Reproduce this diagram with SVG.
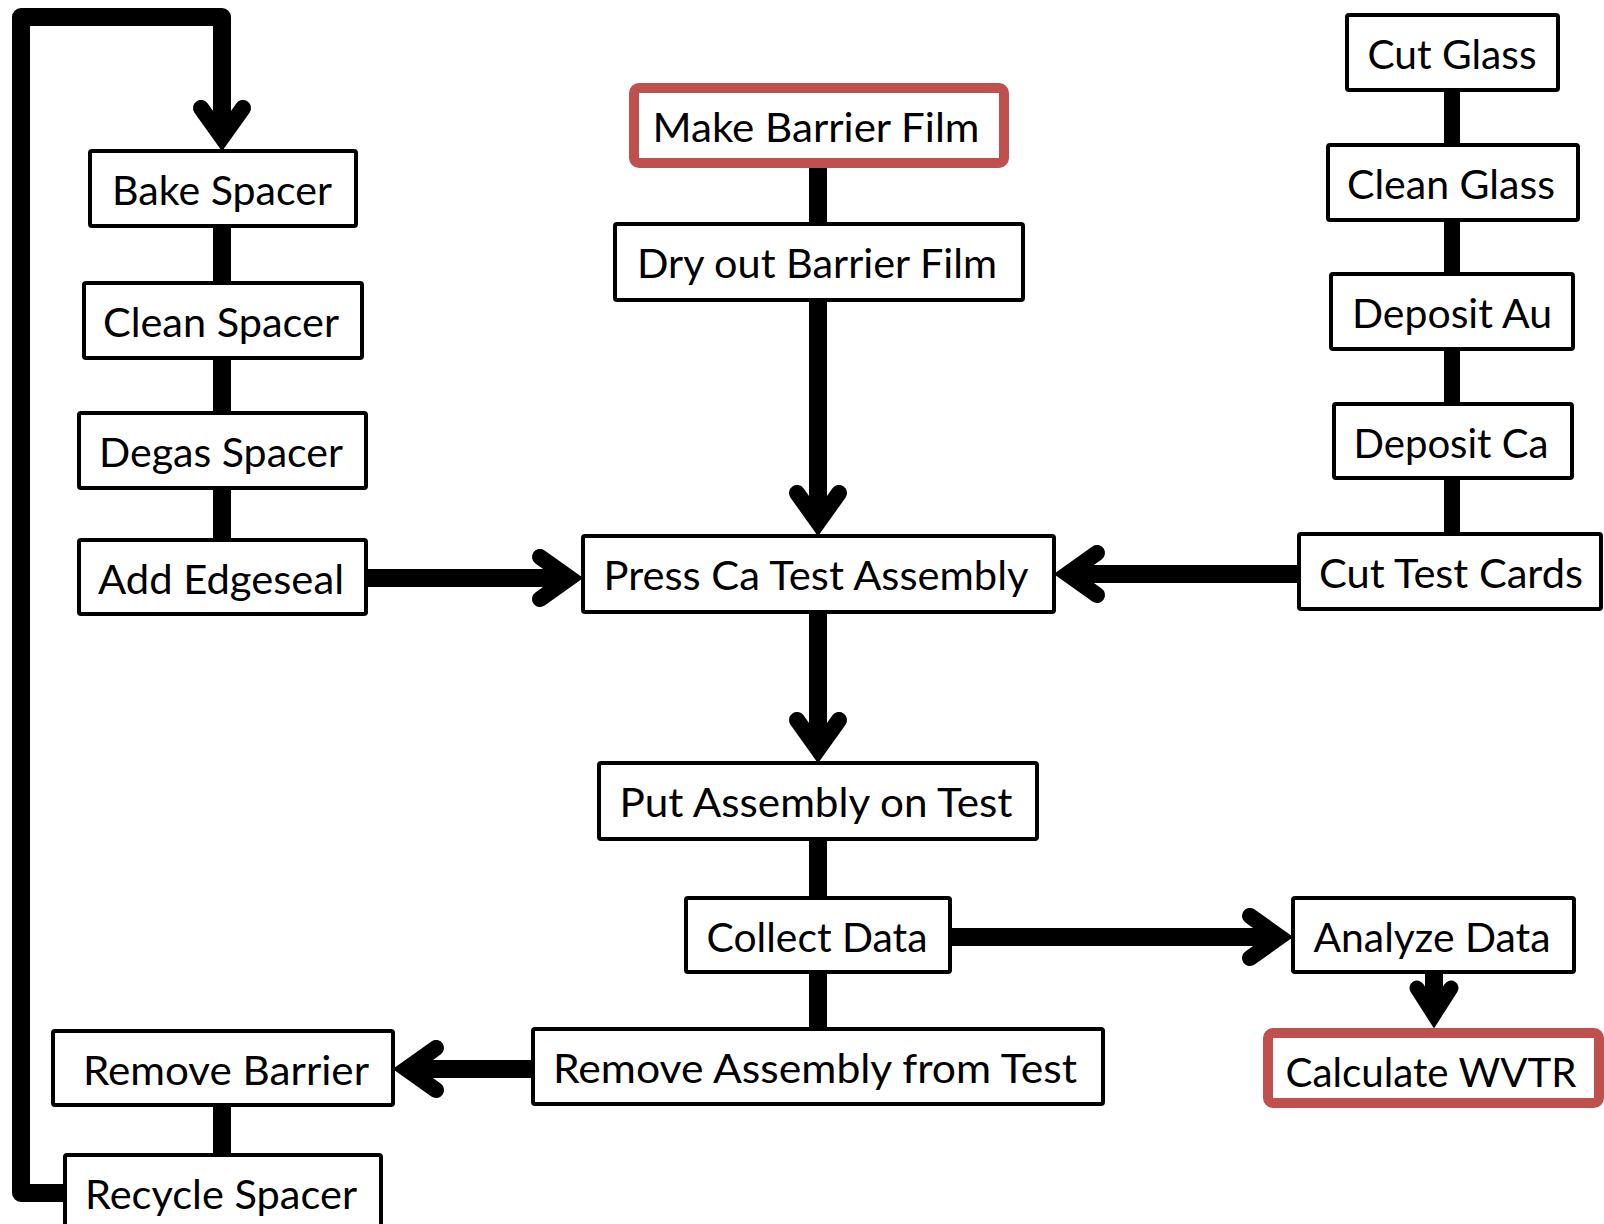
<svg xmlns="http://www.w3.org/2000/svg" width="1604" height="1224" viewBox="0 0 1604 1224">
<style>
.box{fill:#fff;stroke:#000;stroke-width:4}
.red{fill:#fff;stroke:#C0504D;stroke-width:10}
.lbl{font-family:Lato,"Open Sans","Liberation Sans",sans-serif;font-size:40px;fill:#000;text-anchor:middle}
.ln{fill:none;stroke:#000;stroke-width:18;stroke-linecap:butt;stroke-linejoin:round}
.ln2{fill:none;stroke:#000;stroke-width:16;stroke-linecap:butt}
</style>
<defs>
<marker id="ah" markerUnits="userSpaceOnUse" markerWidth="100" markerHeight="100" viewBox="-60 -50 100 100" refX="-14" refY="0" orient="auto" overflow="visible">
<path d="M-43,-21 L-13.5,0 L-43,21" fill="none" stroke="#000" stroke-width="16" stroke-linejoin="miter" stroke-miterlimit="10" stroke-linecap="round"/>
</marker>
<marker id="ahs" markerUnits="userSpaceOnUse" markerWidth="100" markerHeight="100" viewBox="-60 -50 100 100" refX="-14" refY="0" orient="auto" overflow="visible">
<path d="M-40,-17 L-13.5,0 L-40,17" fill="none" stroke="#000" stroke-width="15" stroke-linejoin="miter" stroke-miterlimit="10" stroke-linecap="round"/>
</marker>
</defs>
<rect width="1604" height="1224" fill="#fff"/>
<g id="connectors">
<path class="ln" d="M65,1193 L21,1193 L21,17 L222,17 L222,137" marker-end="url(#ah)"/>
<line class="ln" x1="222" y1="226" x2="222" y2="283"/>
<line class="ln" x1="222" y1="358" x2="222" y2="413"/>
<line class="ln" x1="222" y1="488" x2="222" y2="540"/>
<line class="ln" x1="222" y1="1105" x2="222" y2="1155"/>
<line class="ln" x1="366" y1="578" x2="569" y2="578" marker-end="url(#ah)"/>
<line class="ln" x1="818" y1="168" x2="818" y2="224"/>
<line class="ln" x1="818" y1="300" x2="818" y2="522" marker-end="url(#ah)"/>
<line class="ln" x1="818" y1="612" x2="818" y2="749" marker-end="url(#ah)"/>
<line class="ln" x1="818" y1="839" x2="818" y2="898"/>
<line class="ln" x1="818" y1="972" x2="818" y2="1029"/>
<line class="ln" x1="1299" y1="574" x2="1068" y2="574" marker-end="url(#ah)"/>
<line class="ln" x1="950" y1="937" x2="1279" y2="937" marker-end="url(#ah)"/>
<line class="ln" x1="533" y1="1069" x2="407" y2="1069" marker-end="url(#ah)"/>
<line class="ln" x1="1434" y1="972" x2="1434" y2="1014" marker-end="url(#ahs)"/>
<line class="ln2" x1="1452" y1="90" x2="1452" y2="145"/>
<line class="ln2" x1="1452" y1="220" x2="1452" y2="274"/>
<line class="ln2" x1="1452" y1="349" x2="1452" y2="404"/>
<line class="ln2" x1="1452" y1="478" x2="1452" y2="534"/>
</g>
<g id="bake"><rect class="box" x="90" y="151" width="266" height="75" rx="2"/><text class="lbl" x="222" y="205" textLength="220" lengthAdjust="spacingAndGlyphs">Bake Spacer</text></g>
<g id="cleanspacer"><rect class="box" x="84" y="283" width="278" height="75" rx="2"/><text class="lbl" x="221" y="337" textLength="236" lengthAdjust="spacingAndGlyphs">Clean Spacer</text></g>
<g id="degas"><rect class="box" x="79" y="413" width="287" height="75" rx="2"/><text class="lbl" x="221" y="467" textLength="244" lengthAdjust="spacingAndGlyphs">Degas Spacer</text></g>
<g id="edgeseal"><rect class="box" x="79" y="540" width="287" height="74" rx="2"/><text class="lbl" x="221" y="594" textLength="246" lengthAdjust="spacingAndGlyphs">Add Edgeseal</text></g>
<g id="removebarrier"><rect class="box" x="53" y="1031" width="340" height="74" rx="2"/><text class="lbl" x="226" y="1085" textLength="286" lengthAdjust="spacingAndGlyphs">Remove Barrier</text></g>
<g id="recycle"><rect class="box" x="65" y="1155" width="316" height="80" rx="2"/><text class="lbl" x="221" y="1209" textLength="272" lengthAdjust="spacingAndGlyphs">Recycle Spacer</text></g>
<g id="make"><rect class="red" x="634" y="88" width="370" height="75" rx="5"/><text class="lbl" x="816" y="142" textLength="327" lengthAdjust="spacingAndGlyphs">Make Barrier Film</text></g>
<g id="dry"><rect class="box" x="615" y="224" width="408" height="76" rx="2"/><text class="lbl" x="817" y="278" textLength="360" lengthAdjust="spacingAndGlyphs">Dry out Barrier Film</text></g>
<g id="press"><rect class="box" x="583" y="536" width="471" height="76" rx="2"/><text class="lbl" x="816" y="590" textLength="425" lengthAdjust="spacingAndGlyphs">Press Ca Test Assembly</text></g>
<g id="put"><rect class="box" x="599" y="763" width="438" height="76" rx="2"/><text class="lbl" x="816" y="817" textLength="393" lengthAdjust="spacingAndGlyphs">Put Assembly on Test</text></g>
<g id="collect"><rect class="box" x="686" y="898" width="264" height="74" rx="2"/><text class="lbl" x="817" y="952" textLength="221" lengthAdjust="spacingAndGlyphs">Collect Data</text></g>
<g id="removeassembly"><rect class="box" x="533" y="1029" width="570" height="75" rx="2"/><text class="lbl" x="815" y="1083" textLength="524" lengthAdjust="spacingAndGlyphs">Remove Assembly from Test</text></g>
<g id="cutglass"><rect class="box" x="1347" y="15" width="211" height="75" rx="2"/><text class="lbl" x="1452" y="69" textLength="169" lengthAdjust="spacingAndGlyphs">Cut Glass</text></g>
<g id="cleanglass"><rect class="box" x="1328" y="145" width="250" height="75" rx="2"/><text class="lbl" x="1451" y="199" textLength="208" lengthAdjust="spacingAndGlyphs">Clean Glass</text></g>
<g id="au"><rect class="box" x="1331" y="274" width="242" height="75" rx="2"/><text class="lbl" x="1452" y="328" textLength="200" lengthAdjust="spacingAndGlyphs">Deposit Au</text></g>
<g id="ca"><rect class="box" x="1334" y="404" width="238" height="74" rx="2"/><text class="lbl" x="1451" y="458" textLength="195" lengthAdjust="spacingAndGlyphs">Deposit Ca</text></g>
<g id="cards"><rect class="box" x="1299" y="534" width="302" height="75" rx="2"/><text class="lbl" x="1451" y="588" textLength="264" lengthAdjust="spacingAndGlyphs">Cut Test Cards</text></g>
<g id="analyze"><rect class="box" x="1293" y="898" width="281" height="74" rx="2"/><text class="lbl" x="1432" y="952" textLength="237" lengthAdjust="spacingAndGlyphs">Analyze Data</text></g>
<g id="wvtr"><rect class="red" x="1268" y="1033" width="331" height="70" rx="5"/><text class="lbl" x="1431" y="1087" textLength="291" lengthAdjust="spacingAndGlyphs">Calculate WVTR</text></g>
</svg>
